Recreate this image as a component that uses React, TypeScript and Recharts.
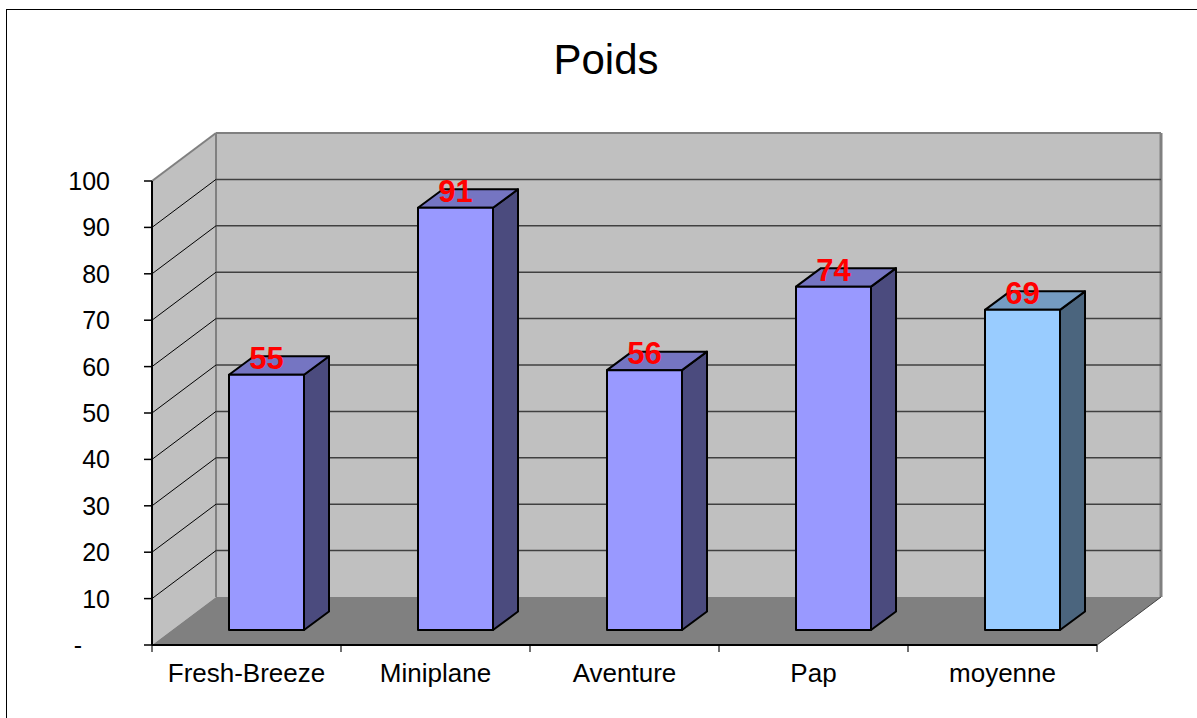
import React from 'react';
import { BarChart, Bar, XAxis, YAxis, ReferenceArea, ReferenceLine, LabelList } from 'recharts';

// values
const categories = ['Fresh-Breeze', 'Miniplane', 'Aventure', 'Pap', 'moyenne'];
const poids = [55, 91, 56, 74, 69];
const yTicks = [0, 10, 20, 30, 40, 50, 60, 70, 80, 90, 100];
const gridTicks = yTicks.filter(t => t > 0 && t < 100);

const data = categories.map((name, i) => ({ name, poids: poids[i] }));

const FONT = '"Liberation Sans", Arial, sans-serif';

// 3d offsets: whole depth of the box, front plane of the columns, depth of a column
const DEPTH = { dx: 64, dy: 48 };
const FRONT = { dx: 20, dy: 15 };
const COL = { dx: 25, dy: 18.5 };

const colours: Record<string, { front: string; top: string; side: string }> = {
    normal: { front: '#9999ff', top: '#7575c2', side: '#4b4b7e' },
    moyenne: { front: '#99ccff', top: '#759cc2', side: '#4b657e' },
};

const Walls = (props: any) => {
    const { x, y, width, height } = props;
    const L = x, R = x + width, T = y, B = y + height;
    const { dx, dy } = DEPTH;
    return (
        <g>
            <polygon points={`${L},${T} ${L + dx},${T - dy} ${L + dx},${B - dy} ${L},${B}`} fill="#c0c0c0" />
            <rect x={L + dx} y={T - dy} width={R - L} height={B - T} fill="#c0c0c0" />
            <polygon points={`${L},${B} ${L + dx},${B - dy} ${R + dx},${B - dy} ${R},${B}`} fill="#808080" />
            <line x1={L} y1={T} x2={L + dx} y2={T - dy} stroke="#808080" strokeWidth={2} />
            <line x1={L + dx} y1={T - dy} x2={R + dx} y2={T - dy} stroke="#808080" strokeWidth={2} />
            <line x1={L + dx} y1={T - dy} x2={L + dx} y2={B - dy} stroke="#808080" strokeWidth={2} />
            <line x1={R + dx} y1={T - dy} x2={R + dx} y2={B - dy} stroke="#808080" strokeWidth={3} />
            <line x1={R} y1={B} x2={R + dx} y2={B - dy} stroke="#404040" strokeWidth={1} />
        </g>
    );
};

const WallGridLine = (props: any) => {
    const { x1, y1, x2 } = props;
    const { dx, dy } = DEPTH;
    const left = Math.min(x1, x2);
    const right = Math.max(x1, x2);
    return (
        <g>
            <line x1={left} y1={y1} x2={left + dx} y2={y1 - dy} stroke="#000" strokeWidth={1} />
            <line x1={left + dx} y1={y1 - dy} x2={right + dx} y2={y1 - dy} stroke="#404040" strokeWidth={1.5} />
        </g>
    );
};

const CategoryTick = (props: any) => {
    const { x1, y1, y2 } = props;
    const bottom = Math.max(y1, y2);
    return <line x1={x1} y1={bottom} x2={x1} y2={bottom + 7} stroke="#404040" strokeWidth={1.5} />;
};

const Column = (props: any) => {
    const { x, y, width, height, payload } = props;
    if (height == null || height <= 0) return null;
    const c = payload.name === 'moyenne' ? colours.moyenne : colours.normal;
    const fx = x + FRONT.dx;
    const fy = y - FRONT.dy;
    const { dx, dy } = COL;
    return (
        <g stroke="#000" strokeWidth={2} strokeLinejoin="round">
            <polygon points={`${fx + width},${fy} ${fx + width + dx},${fy - dy} ${fx + width + dx},${fy + height - dy} ${fx + width},${fy + height}`} fill={c.side} />
            <polygon points={`${fx},${fy} ${fx + dx},${fy - dy} ${fx + width + dx},${fy - dy} ${fx + width},${fy}`} fill={c.top} />
            <rect x={fx} y={fy} width={width} height={height} fill={c.front} />
        </g>
    );
};

const ColumnValue = (props: any) => {
    const vb = props.viewBox && props.viewBox.width != null ? props.viewBox : props;
    const { x, y, width } = vb;
    return (
        <text x={x + FRONT.dx + width / 2} y={y - FRONT.dy - 6} textAnchor="middle"
            fill="#ff0000" fontFamily={FONT} fontSize={31} fontWeight="bold">
            {props.value}
        </text>
    );
};

const YTick = (props: any) => {
    const { x, y, payload } = props;
    const zero = payload.value === 0;
    return (
        <text x={zero ? x - 62 : x - 34} y={y} dy={9} textAnchor="end" fill="#000" fontFamily={FONT} fontSize={25}>
            {zero ? '-' : payload.value}
        </text>
    );
};

const XTick = (props: any) => {
    const { x, y, payload } = props;
    return (
        <text x={x} y={y + 37} textAnchor="middle" fill="#000" fontFamily={FONT} fontSize={26}>
            {payload.value}
        </text>
    );
};

const App: React.FC = () => {
    return (
        <div style={{ position: 'absolute', left: 0, top: 0, width: 1197, height: 718, background: '#fff', overflow: 'hidden' }}>
            <div style={{ position: 'absolute', left: 6, top: 9, width: 1220, height: 740, border: '1px solid #000', boxSizing: 'border-box' }} />
            <div style={{ position: 'absolute', left: 0, top: 39, width: 1212, textAlign: 'center', fontFamily: FONT, fontSize: 42, lineHeight: '42px', color: '#000' }}>
                Poids
            </div>
            <div style={{ position: 'absolute', left: 0, top: 0 }}>
                <BarChart width={1197} height={718} data={data} margin={{ top: 181, right: 100, bottom: 33, left: 72 }}>
                    <XAxis dataKey="name" height={40} tickLine={false} tickSize={0} tickMargin={0}
                        axisLine={{ stroke: '#000', strokeWidth: 2 }} tick={<XTick />} interval={0} />
                    <YAxis width={80} domain={[0, 100]} ticks={yTicks} interval={0} tickSize={8} tickMargin={0}
                        axisLine={{ stroke: '#000', strokeWidth: 2 }} tickLine={{ stroke: '#000', strokeWidth: 1.5 }} tick={<YTick />} />
                    <ReferenceArea y1={0} y2={100} ifOverflow="visible" shape={<Walls />} zIndex={40} />
                    {gridTicks.map(t => (
                        <ReferenceLine key={`g${t}`} y={t} ifOverflow="visible" shape={<WallGridLine />} zIndex={50} />
                    ))}
                    {categories.map(c => (
                        <ReferenceLine key={`t${c}`} x={c} position="start" ifOverflow="visible" shape={<CategoryTick />} zIndex={50} />
                    ))}
                    <ReferenceLine x={categories[categories.length - 1]} position="end" ifOverflow="visible" shape={<CategoryTick />} zIndex={50} />
                    <Bar dataKey="poids" barSize={75} shape={<Column />} isAnimationActive={false}>
                        <LabelList dataKey="poids" content={<ColumnValue />} />
                    </Bar>
                </BarChart>
            </div>
        </div>
    );
};

export default App;
